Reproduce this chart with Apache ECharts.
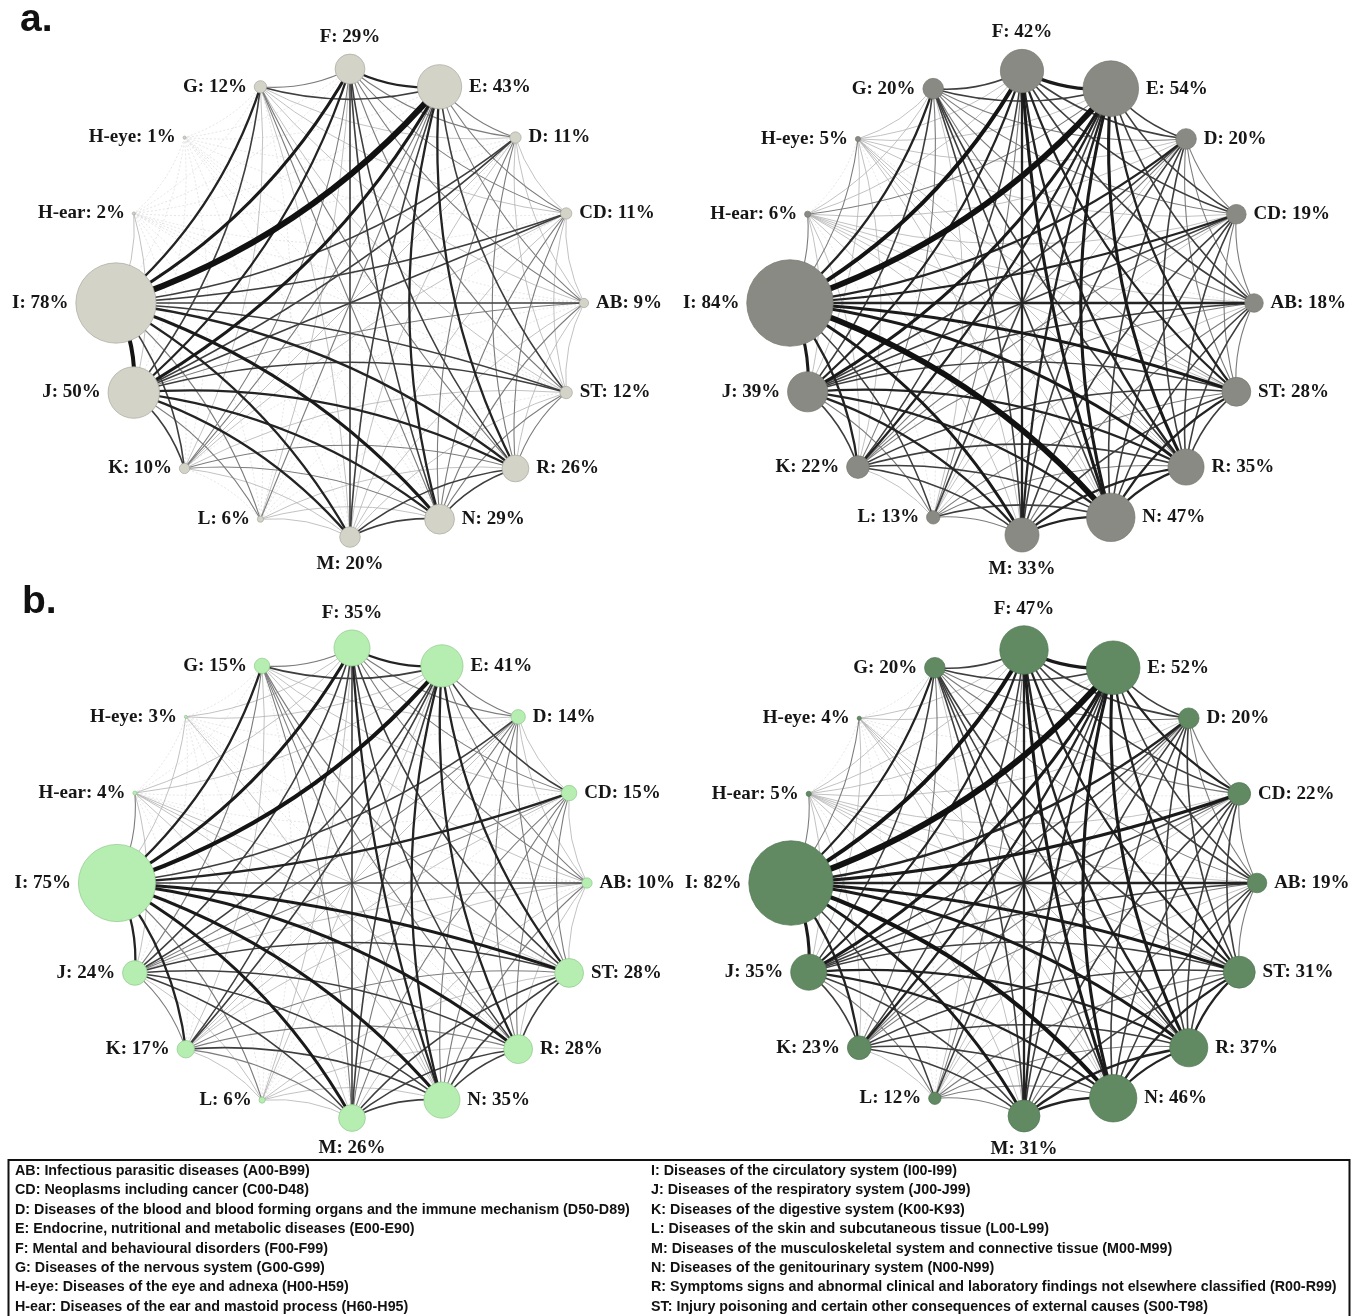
<!DOCTYPE html>
<html>
<head>
<meta charset="utf-8">
<script src="https://cdn.jsdelivr.net/npm/echarts@6/dist/echarts.min.js"></script>
<style>
  html, body { margin: 0; padding: 0; background: #fff; }
  #main { width: 1359px; height: 1316px; }
</style>
</head>
<body>
<div id="main"></div>
<script>
// disease groups, in the order they sit round the circle (counter-clockwise from the right)
const codes = ['AB', 'CD', 'D', 'E', 'F', 'G', 'H-eye', 'H-ear', 'I', 'J', 'K', 'L', 'M', 'N', 'R', 'ST'];

// prevalence (%) of each group, one list per panel
const prevA1 = [9, 11, 11, 43, 29, 12, 1, 2, 78, 50, 10, 6, 20, 29, 26, 12];
const prevA2 = [18, 19, 20, 54, 42, 20, 5, 6, 84, 39, 22, 13, 33, 47, 35, 28];
const prevB1 = [10, 15, 14, 41, 35, 15, 3, 4, 75, 24, 17, 6, 26, 35, 28, 28];
const prevB2 = [19, 22, 20, 52, 47, 20, 4, 5, 82, 35, 23, 12, 31, 46, 37, 31];

// co-occurrence strength class (0 faint .. 7 strongest), upper triangle, row = codes[i], cols = codes[i+1..]
const linksA1 = [
  [1, 1, 2, 2, 1, 0, 0, 3, 2, 0, 0, 1, 2, 1, 1],
  [1, 2, 2, 1, 0, 0, 3, 3, 1, 0, 1, 2, 2, 1],
  [2, 2, 1, 0, 0, 3, 3, 1, 0, 1, 2, 2, 1],
  [4, 3, 0, 0, 7, 5, 2, 2, 3, 4, 4, 3],
  [2, 0, 0, 5, 4, 2, 1, 3, 3, 3, 2],
  [0, 0, 4, 3, 1, 0, 1, 2, 2, 1],
  [0, 0, 0, 0, 0, 0, 0, 0, 0],
  [1, 1, 0, 0, 0, 0, 0, 0],
  [6, 3, 2, 4, 5, 4, 3],
  [3, 2, 4, 4, 4, 3],
  [0, 1, 2, 2, 1],
  [1, 1, 1, 0],
  [3, 3, 1],
  [3, 2],
  [2]
];
const linksA2 = [
  [2, 2, 3, 3, 2, 0, 1, 4, 3, 2, 1, 2, 3, 3, 2],
  [2, 3, 3, 2, 1, 1, 4, 3, 2, 1, 3, 3, 3, 2],
  [3, 3, 2, 1, 1, 4, 3, 2, 1, 3, 3, 3, 2],
  [5, 3, 1, 2, 7, 5, 4, 3, 4, 5, 5, 4],
  [3, 1, 1, 6, 4, 3, 2, 4, 5, 4, 4],
  [1, 1, 4, 3, 2, 1, 3, 3, 3, 2],
  [0, 2, 1, 1, 0, 1, 1, 1, 1],
  [2, 1, 1, 0, 1, 1, 1, 1],
  [5, 4, 3, 5, 7, 5, 5],
  [3, 2, 4, 4, 4, 3],
  [1, 3, 3, 3, 3],
  [2, 3, 2, 2],
  [4, 4, 3],
  [4, 4],
  [3]
];
const linksB1 = [
  [1, 1, 2, 2, 1, 0, 0, 3, 1, 1, 0, 1, 2, 1, 1],
  [1, 3, 2, 1, 0, 0, 4, 2, 1, 0, 2, 2, 2, 2],
  [2, 2, 1, 0, 0, 3, 2, 1, 0, 2, 2, 2, 2],
  [4, 3, 1, 1, 6, 3, 3, 1, 3, 4, 4, 4],
  [2, 1, 1, 5, 3, 3, 1, 3, 4, 3, 3],
  [0, 0, 4, 2, 1, 0, 2, 2, 2, 2],
  [0, 1, 0, 0, 0, 0, 1, 0, 0],
  [2, 1, 0, 0, 1, 1, 1, 1],
  [4, 4, 2, 5, 5, 5, 5],
  [2, 1, 3, 3, 3, 3],
  [1, 2, 3, 2, 2],
  [1, 1, 1, 1],
  [3, 3, 3],
  [3, 3],
  [3]
];
const linksB2 = [
  [2, 2, 3, 3, 2, 0, 1, 4, 3, 2, 1, 2, 3, 3, 2],
  [2, 4, 3, 2, 0, 1, 5, 3, 2, 1, 3, 3, 3, 3],
  [3, 3, 2, 0, 1, 4, 3, 2, 1, 3, 3, 3, 3],
  [5, 3, 1, 1, 7, 5, 4, 3, 4, 5, 5, 4],
  [3, 1, 1, 6, 4, 3, 2, 4, 5, 4, 4],
  [0, 1, 4, 3, 2, 1, 3, 3, 3, 3],
  [0, 2, 1, 0, 0, 1, 1, 1, 1],
  [2, 1, 1, 0, 1, 1, 1, 1],
  [5, 4, 3, 5, 6, 5, 5],
  [3, 2, 3, 4, 4, 3],
  [1, 3, 3, 3, 3],
  [2, 2, 2, 2],
  [4, 4, 3],
  [4, 4],
  [4]
];

const legendLeft = [
  'AB: Infectious parasitic diseases (A00-B99)',
  'CD: Neoplasms including cancer (C00-D48)',
  'D: Diseases of the blood and blood forming organs and the immune mechanism (D50-D89)',
  'E: Endocrine, nutritional and metabolic diseases (E00-E90)',
  'F: Mental and behavioural disorders (F00-F99)',
  'G: Diseases of the nervous system (G00-G99)',
  'H-eye: Diseases of the eye and adnexa (H00-H59)',
  'H-ear: Diseases of the ear and mastoid process (H60-H95)'
];
const legendRight = [
  'I: Diseases of the circulatory system (I00-I99)',
  'J: Diseases of the respiratory system (J00-J99)',
  'K: Diseases of the digestive system (K00-K93)',
  'L: Diseases of the skin and subcutaneous tissue (L00-L99)',
  'M: Diseases of the musculoskeletal system and connective tissue (M00-M99)',
  'N: Diseases of the genitourinary system (N00-N99)',
  'R: Symptoms signs and abnormal clinical and laboratory findings not elsewhere classified (R00-R99)',
  'ST: Injury poisoning and certain other consequences of external causes (S00-T98)'
];

// look of each strength class
const lvWidth = [0.6, 0.8, 1.1, 1.6, 2.3, 3.1, 4.0, 6.0];
const lvColor = ['#d4d4d4', '#b2b2b2', '#7c7c7c', '#3e3e3e', '#232323', '#1a1a1a', '#141414', '#111111'];

const panels = [
  { center: [350, 303], r: 234, prev: prevA1, links: linksA1, fill: '#d3d3c8', border: '#a8a89c' },
  { center: [1022, 303], r: 232, prev: prevA2, links: linksA2, fill: '#8a8a84', border: '#77776f' },
  { center: [352, 883], r: 235, prev: prevB1, links: linksB1, fill: '#b6eeb2', border: '#8fc98b' },
  { center: [1024, 883], r: 233, prev: prevB2, links: linksB2, fill: '#618a63', border: '#4f7551' }
];

function labelPos(i) {
  if (i === 4) return 'top';
  if (i === 12) return 'bottom';
  if (i >= 5 && i <= 11) return 'left';
  return 'right';
}

function buildLinks(rows) {
  let out = [];
  rows.forEach((row, i) => {
    row.forEach((lv, k) => {
      const j = i + 1 + k;
      const steps = j - i;
      // orient so every curve bows toward the middle of the ring; opposite pairs run straight
      const fwd = steps <= 8;
      const span = fwd ? steps : 16 - steps;
      out.push({
        source: codes[fwd ? i : j],
        target: codes[fwd ? j : i],
        lv: lv,
        lineStyle: {
          width: lvWidth[lv],
          color: lvColor[lv],
          type: lv === 0 ? [2, 2] : 'solid',
          curveness: span === 8 ? 0 : (span === 7 ? 0.07 : 0.14),
          opacity: 1
        }
      });
    });
  });
  out.sort((a, b) => a.lv - b.lv);
  return out;
}

const chart = echarts.init(document.getElementById('main'), null, { renderer: 'canvas' });

let series = panels.map((p, pi) => ({
  type: 'graph',
  coordinateSystem: 'polar',
  polarIndex: pi,
  animation: false,
  silent: true,
  data: codes.map((c, i) => ({
    name: c,
    value: [1, i],
    symbolSize: Math.max(3, p.prev[i] * 1.03),
    label: { position: labelPos(i) }
  })),
  links: buildLinks(p.links),
  itemStyle: { color: p.fill, borderColor: p.border, borderWidth: 0.7 },
  lineStyle: { curveness: 0.14 },
  label: {
    show: true,
    distance: 7,
    fontFamily: 'Liberation Serif',
    fontWeight: 'bold',
    fontSize: 19,
    color: '#161616',
    formatter: (d) => d.name + ': ' + p.prev[d.dataIndex] + '%'
  },
  emphasis: { disabled: true }
}));

let graphic = [
  { type: 'text', left: 20, top: 1, style: { text: 'a.', font: 'bold 39px "Liberation Sans"', fill: '#111' } },
  { type: 'text', left: 22, top: 583, style: { text: 'b.', font: 'bold 39px "Liberation Sans"', fill: '#111' } },
  { type: 'rect', shape: { x: 8.5, y: 1160, width: 1341, height: 170 }, style: { fill: 'none', stroke: '#111', lineWidth: 2 } }
];
legendLeft.forEach((t, i) => {
  graphic.push({ type: 'text', x: 15, y: 1171 + i * 19.4,
    style: { text: t, font: 'bold 14.3px "Liberation Sans"', fill: '#111', verticalAlign: 'middle' } });
});
legendRight.forEach((t, i) => {
  graphic.push({ type: 'text', x: 651, y: 1171 + i * 19.4,
    style: { text: t, font: 'bold 14.3px "Liberation Sans"', fill: '#111', verticalAlign: 'middle' } });
});

chart.setOption({
  backgroundColor: '#fff',
  animation: false,
  polar: panels.map(p => ({ center: p.center, radius: p.r })),
  angleAxis: panels.map((p, i) => ({
    polarIndex: i, type: 'value', min: 0, max: 16, startAngle: 0, clockwise: false,
    axisLine: { show: false }, axisTick: { show: false }, axisLabel: { show: false }, splitLine: { show: false }
  })),
  radiusAxis: panels.map((p, i) => ({
    polarIndex: i, type: 'value', min: 0, max: 1,
    axisLine: { show: false }, axisTick: { show: false }, axisLabel: { show: false }, splitLine: { show: false }
  })),
  graphic: graphic,
  series: series
});
</script>
</body>
</html>
